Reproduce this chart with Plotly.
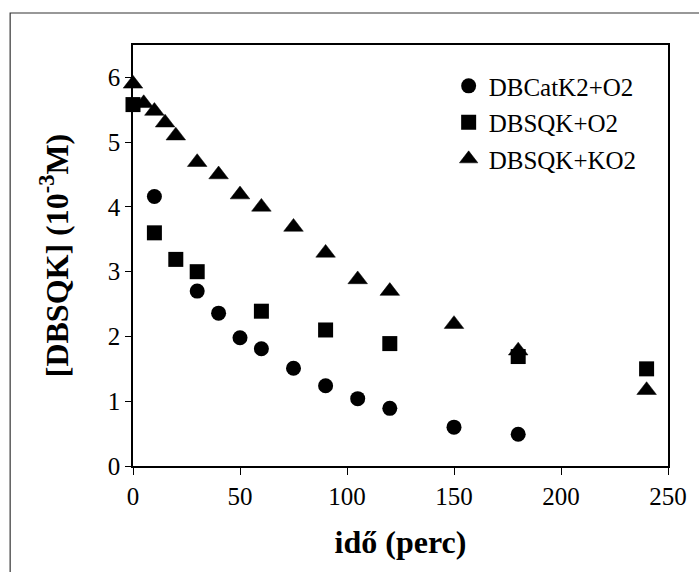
import plotly.graph_objects as go

# Data
t_cat = [10, 30, 40, 50, 60, 75, 90, 105, 120, 150, 180]
c_cat = [4.16, 2.70, 2.36, 1.98, 1.81, 1.51, 1.24, 1.04, 0.89, 0.60, 0.49]

t_sqo = [0, 10, 20, 30, 60, 90, 120, 180, 240]
c_sqo = [5.58, 3.60, 3.19, 3.00, 2.39, 2.10, 1.89, 1.69, 1.50]

t_sqk = [0, 5, 10, 15, 20, 30, 40, 50, 60, 75, 90, 105, 120, 150, 180, 240]
c_sqk = [5.9, 5.6, 5.48, 5.3, 5.1, 4.69, 4.5, 4.19, 4.0, 3.69, 3.29, 2.88, 2.7, 2.19, 1.78, 1.17]

names = ["DBCatK2+O2", "DBSQK+O2", "DBSQK+KO2"]
x_ticks = [0, 50, 100, 150, 200, 250]
y_ticks = [0, 1, 2, 3, 4, 5, 6]

FONT = "Liberation Serif"

fig = go.Figure()
fig.add_trace(go.Scatter(x=t_cat, y=c_cat, mode="markers", name=names[0],
                         legendgroup="a", legendrank=1, cliponaxis=False,
                         marker=dict(symbol="circle", size=15, color="black")))
fig.add_trace(go.Scatter(x=t_sqk, y=c_sqk, mode="markers", name=names[2],
                         legendgroup="c", legendrank=3, cliponaxis=False,
                         marker=dict(symbol="triangle-up", size=17, color="black",
                                     line=dict(width=0.5, color="black"))))
fig.add_trace(go.Scatter(x=t_sqo, y=c_sqo, mode="markers", name=names[1],
                         legendgroup="b", legendrank=2, cliponaxis=False,
                         marker=dict(symbol="square", size=15, color="black")))

fig.update_layout(
    width=699, height=572,
    margin=dict(l=133, r=26, t=45, b=106),
    paper_bgcolor="white", plot_bgcolor="white",
    font=dict(family=FONT, size=25, color="black"),
    legend=dict(x=0.59, y=0.957, xanchor="left", yanchor="top",
                font=dict(family=FONT, size=25, color="black"),
                bgcolor="rgba(0,0,0,0)", traceorder="grouped",
                tracegroupgap=1, itemwidth=30),
    xaxis=dict(range=[0, 250], tickvals=x_ticks, ticktext=[str(v) for v in x_ticks],
               showgrid=False, zeroline=False, showline=True, linecolor="black",
               linewidth=1.5, mirror=True, ticks="outside", ticklen=7, tickcolor="black",
               tickfont=dict(family=FONT, size=25, color="black"),
               title=dict(text="<b>idő (perc)</b>", font=dict(family=FONT, size=32, color="black"),
                          standoff=22)),
    yaxis=dict(range=[0, 6.5], tickvals=y_ticks, ticktext=[str(v) for v in y_ticks],
               showgrid=False, zeroline=False, showline=True, linecolor="black",
               linewidth=1.5, mirror=True, ticks="outside", ticklen=6, tickcolor="black",
               tickfont=dict(family=FONT, size=25, color="black"),
               title=dict(text="<b>[DBSQK] (10<sup>-3</sup>M)</b>",
                          font=dict(family=FONT, size=32, color="black"),
                          standoff=30)),
    shapes=[dict(type="rect", xref="paper", yref="paper",
                 x0=(9 - 133) / 540, x1=(705 - 133) / 540,
                 y0=(466 - 580) / 421, y1=(466 - 13) / 421,
                 line=dict(color="#333333", width=1.2), fillcolor="rgba(0,0,0,0)",
                 layer="below")],
)

fig.write_html("out.html")
